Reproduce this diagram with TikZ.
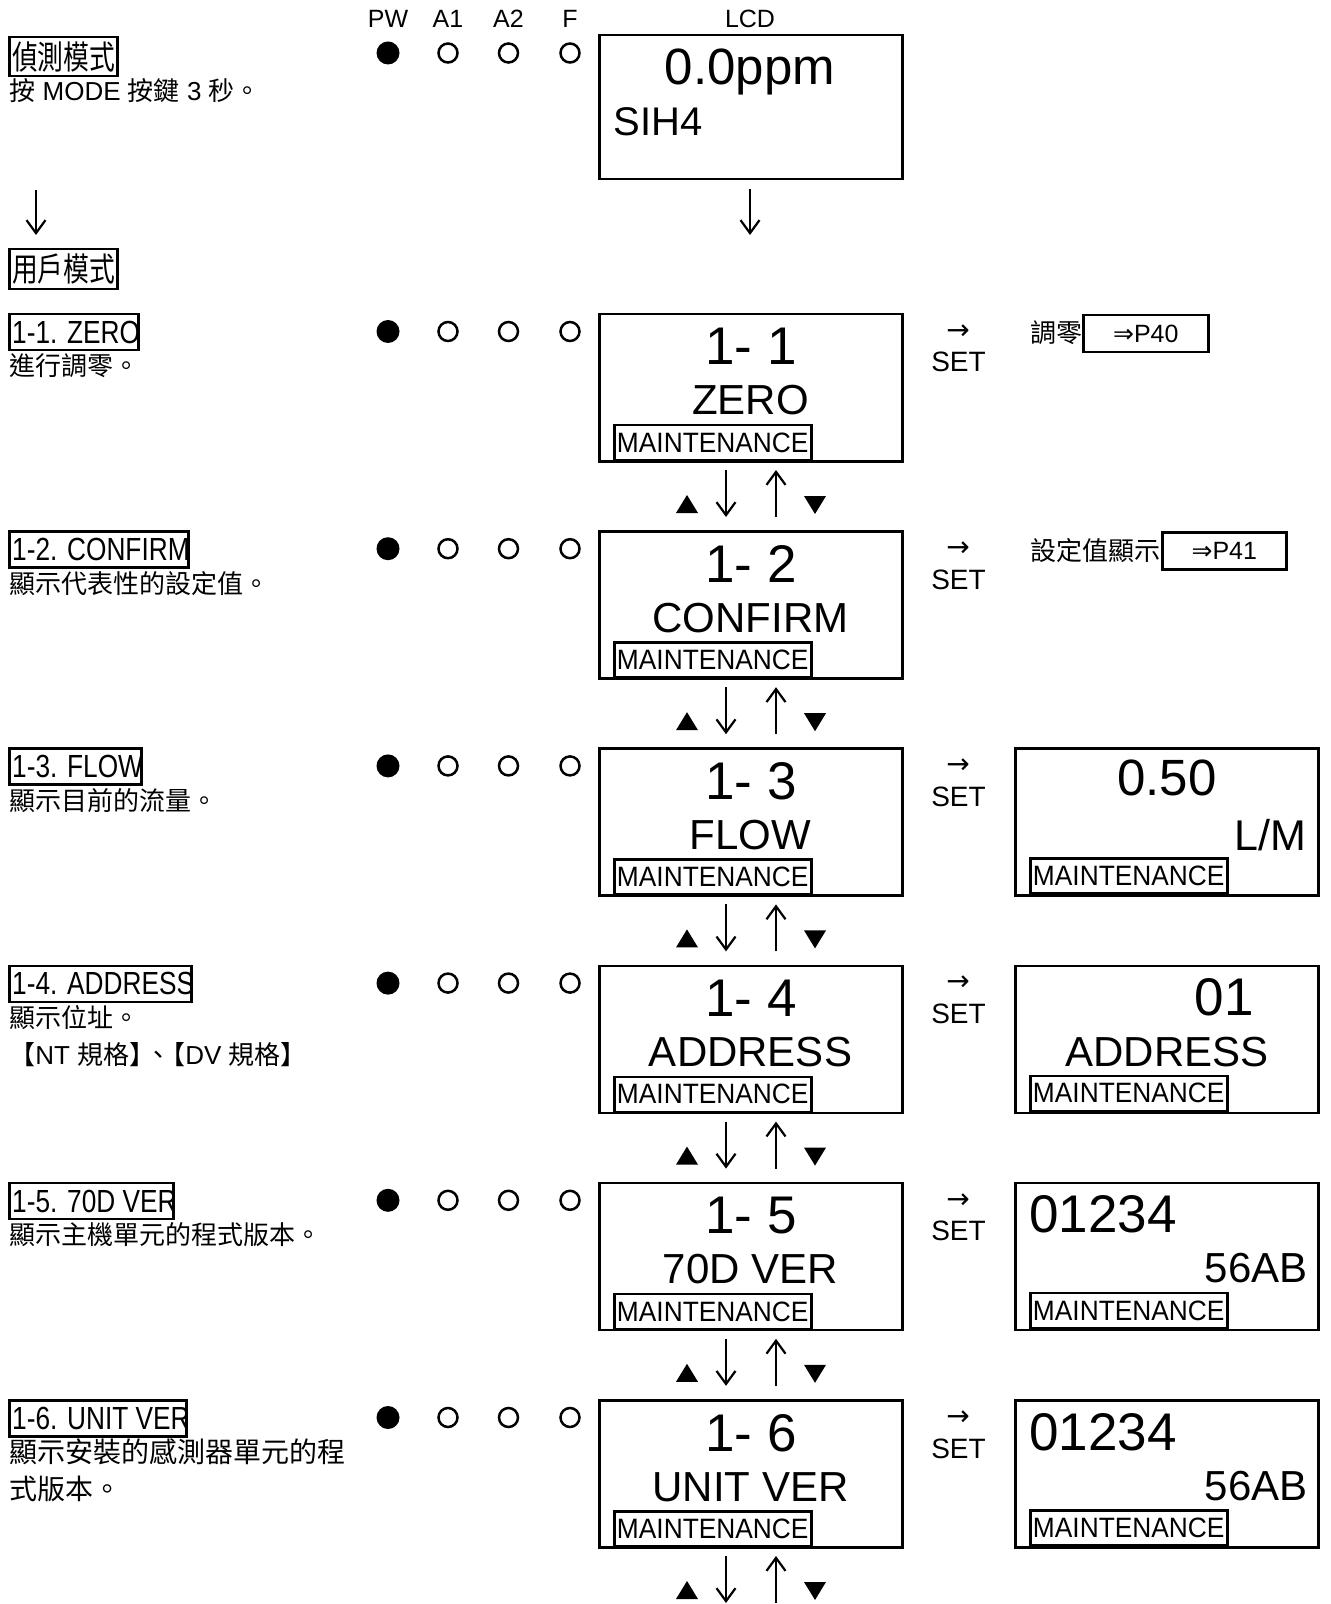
\documentclass[tikz,border=0pt]{standalone}
\usepackage{fontspec}
\setmainfont{Liberation Sans}
\newfontfamily\cjk{Noto Sans CJK TC}
\newfontfamily\cjkn[FakeStretch=0.78]{Noto Sans CJK TC}
\newfontfamily\nar[FakeStretch=0.82]{Liberation Sans}
\newfontfamily\narm[FakeStretch=0.94]{Liberation Sans}
\newfontfamily\symf{DejaVu Sans}
\usetikzlibrary{arrows.meta}
\newcommand\setfs[1]{\fontsize{#1}{#1}\selectfont}
\newcommand\cj[1]{{\cjk\setfs{13}#1}}
\newcommand\lb[2]{\makebox[#1][l]{#2}}
\begin{document}
\begin{tikzpicture}[x=0.5pt,y=-0.5pt,
  box/.style={draw,line width=1.25pt,minimum width=151.5pt,minimum height=73.5pt,inner sep=0pt,anchor=north west},
  mbox/.style={draw,line width=1.25pt,minimum width=98.5pt,minimum height=17.5pt,inner sep=0pt,anchor=north west,font=\narm\setfs{14}},
  lbl/.style={draw,line width=1.25pt,anchor=north west,minimum height=18pt,inner xsep=1.5pt,inner ysep=0pt,font=\nar\setfs{16}},
  lblc/.style={draw,line width=1.25pt,anchor=north west,inner xsep=1.5pt,inner ysep=0pt,font=\cjkn\setfs{16.5}},
  ledon/.style={circle,fill,minimum size=11.5pt,inner sep=0pt},
  ledoff/.style={circle,draw,line width=1.25pt,minimum size=9.5pt,inner sep=0pt},
  darr/.style={line width=1.1pt,-{Straight Barb[length=6.5pt,width=9.5pt]}},
  txt/.style={inner sep=0pt},
  head/.style={txt,anchor=base,font=\setfs{12.5}},
  big/.style={txt,anchor=base,font=\setfs{26.5}},
  mid/.style={txt,anchor=base,font=\setfs{21}},
  desc/.style={txt,anchor=base west,font=\setfs{13}},
  setl/.style={txt,anchor=base,font=\setfs{14}},
  sarr/.style={txt,anchor=center,font=\symf\setfs{14}},
  refbox/.style={draw,line width=1.25pt,anchor=north west,minimum height=18.5pt,inner sep=0pt,font=\setfs{12.5}},
  reftxt/.style={txt,anchor=base west,font=\cjk\setfs{13}}
]
\useasboundingbox (0,0) rectangle (1331,1604);

% header
\node[head] (hpw) at (388,28) {PW};
\node[head] (ha1) at (448,28) {A1};
\node[head] (ha2) at (508.5,28) {A2};
\node[head] (hf) at (570,28) {F};
\node[head] (hlcd) at (750,28) {LCD};

% detection mode
\node[ledon] (pw0) at (388,53) {};
\node[ledoff] (aa0) at (448,53) {};
\node[ledoff] (ab0) at (508.5,53) {};
\node[ledoff] (fl0) at (570,53) {};
\node[box,minimum height=72pt] (lcd) at (598,34) {};
\node[txt,anchor=base,font=\setfs{25.5}] (ppm) at (750,85) {0.0ppm};
\node[txt,anchor=base west,font=\setfs{20}] (gas) at (613,136) {SIH4};
\node[lblc,minimum height=19.5pt] (det) at (8,36) {\lb{51pt}{偵測模式}};
\node[desc] (detd) at (9,101) {\cj{按} MODE \cj{按鍵} 3 \cj{秒。}};
\coordinate (la1) at (36,190);
\coordinate (la2) at (36,235);
\draw[darr] (la1) -- (la2);
\coordinate (lc1) at (750,189);
\coordinate (lc2) at (750,235);
\draw[darr] (lc1) -- (lc2);
\node[lblc,minimum height=20pt] (usr) at (8,248) {\lb{51pt}{用戶模式}};

% rows
\foreach \rt/\rn/\rw [count=\i] in {313/1/ZERO, 530.2/2/CONFIRM, 747.4/3/FLOW, 964.6/4/ADDRESS, 1181.8/5/70D VER, 1399/6/UNIT VER}{
  \node[box] (b\i) at (598,\rt) {};
  \node[big] (bn\i) at (751,\rt+52) {1- \rn};
  \node[mid] (bw\i) at (750.5,\rt+102) {\rw};
  \node[mbox] (bm\i) at (613,\rt+111) {MAINTENANCE};
  \node[ledon] (pw\i) at (388,\rt+18.5) {};
  \node[ledoff] (aa\i) at (448,\rt+18.5) {};
  \node[ledoff] (ab\i) at (508.5,\rt+18.5) {};
  \node[ledoff] (fl\i) at (570,\rt+18.5) {};
  \node[sarr] (sa\i) at (958,\rt+19) {→};
  \node[setl] (st\i) at (958.5,\rt+59) {SET};
  \coordinate (dt\i) at (726,\rt+157);
  \coordinate (db\i) at (726,\rt+204);
  \coordinate (ut\i) at (776,\rt+157);
  \coordinate (ub\i) at (776,\rt+204);
  \draw[darr] (dt\i) -- (db\i);
  \draw[darr] (ub\i) -- (ut\i);
  \fill (676,\rt+200) -- (698,\rt+200) -- (687,\rt+182) -- cycle;
  \fill (804,\rt+183) -- (826,\rt+183) -- (815,\rt+201) -- cycle;
}

% left labels and descriptions
\node[lbl] (l1) at (8,313) {\lb{61.5pt}{1-1. ZERO}};
\node[desc] (d1) at (9,376) {\cj{進行調零。}};
\node[lbl] (l2) at (8,530.2) {\lb{86.5pt}{1-2. CONFIRM}};
\node[desc] (d2) at (9,593.2) {\cj{顯示代表性的設定值。}};
\node[lbl] (l3) at (8,747.4) {\lb{63pt}{1-3. FLOW}};
\node[desc] (d3) at (9,810.4) {\cj{顯示目前的流量。}};
\node[lbl] (l4) at (8,964.6) {\lb{88pt}{1-4. ADDRESS}};
\node[desc] (d4) at (9,1027.6) {\cj{顯示位址。}};
\node[desc] (d4b) at (9,1064.6) {\cj{【}NT \cj{規格】}\kern-5pt\cj{、}\kern-6pt\cj{【}DV \cj{規格】}};
\node[lbl] (l5) at (8,1181.8) {\lb{79pt}{1-5. 70D VER}};
\node[desc] (d5) at (9,1244.8) {\cj{顯示主機單元的程式版本。}};
\node[lbl] (l6) at (8,1399) {\lb{85.5pt}{1-6. UNIT VER}};
\node[desc,font=\cjk\setfs{14}] (d6) at (9,1462) {顯示安裝的感測器單元的程};
\node[desc,font=\cjk\setfs{14}] (d6b) at (9,1499) {式版本。};

% SET results, rows 1 and 2
\node[reftxt] (z1) at (1030,343) {調零};
\node[refbox,minimum width=62.5pt] (p40) at (1082,314) {{\symf ⇒}P40};
\node[reftxt] (z2) at (1030,560.2) {設定值顯示};
\node[refbox,minimum width=62pt] (p41) at (1161,531.2) {{\symf ⇒}P41};

% SET results, rows 3 to 6
\node[box] (r3) at (1014,747.4) {};
\node[txt,anchor=base,font=\setfs{25.5}] (r3a) at (1167,795.4) {0.50};
\node[txt,anchor=base east,font=\setfs{21.5}] (r3b) at (1307,850.4) {L/M};
\node[mbox] (rm3) at (1029,857.4) {MAINTENANCE};

\node[box] (r4) at (1014,964.6) {};
\node[txt,anchor=base,font=\setfs{26.5}] (r4a) at (1224,1015.6) {01};
\node[txt,anchor=base,font=\setfs{21}] (r4b) at (1167,1066.6) {ADDRESS};
\node[mbox] (rm4) at (1029,1074.6) {MAINTENANCE};

\node[box] (r5) at (1014,1181.8) {};
\node[txt,anchor=base west,font=\setfs{26.5}] (r5a) at (1029,1232.8) {01234};
\node[txt,anchor=base east,font=\setfs{21}] (r5b) at (1308,1282.8) {56AB};
\node[mbox] (rm5) at (1029,1291.8) {MAINTENANCE};

\node[box] (r6) at (1014,1399) {};
\node[txt,anchor=base west,font=\setfs{26.5}] (r6a) at (1029,1450) {01234};
\node[txt,anchor=base east,font=\setfs{21}] (r6b) at (1308,1500) {56AB};
\node[mbox] (rm6) at (1029,1509) {MAINTENANCE};
\end{tikzpicture}
\end{document}
